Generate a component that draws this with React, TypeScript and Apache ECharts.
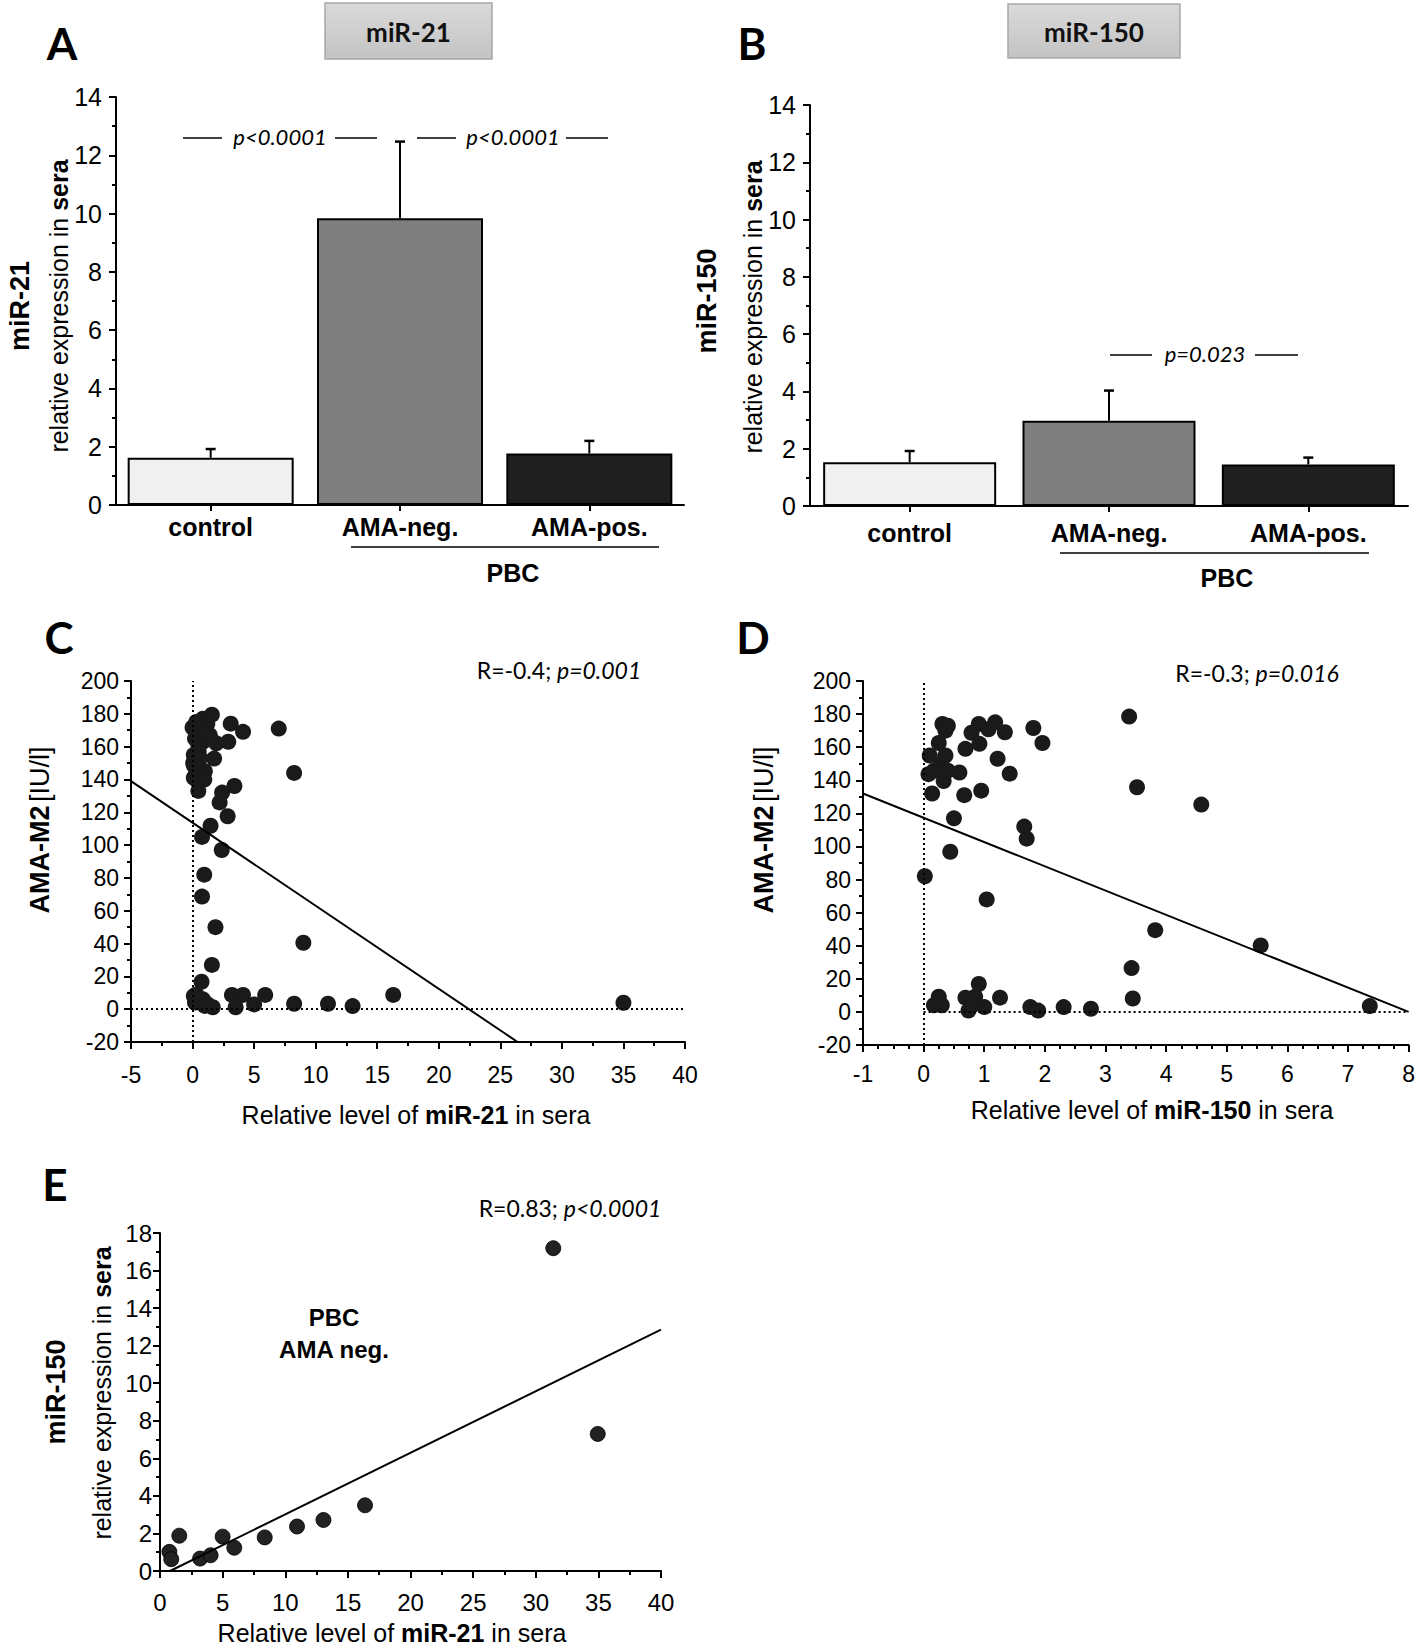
import React, { useEffect, useRef } from 'react';
import * as echarts from 'echarts';

// ---------- data ----------
const barCategories = ['control', 'AMA-neg.', 'AMA-pos.'];
const mir21Means = [1.62, 9.84, 1.77];
const mir21ErrTop = [1.92, 12.47, 2.2];
const mir150Means = [1.53, 2.98, 1.45];
const mir150ErrTop = [1.92, 4.03, 1.69];
const barColors = ['#f0f0f0', '#7f7f7f', '#1f1f1f'];
const barTicks = [0, 2, 4, 6, 8, 10, 12, 14];

// panel C: miR-21 vs AMA-M2
const scatterC = [
  [0.0, 171.7], [0.3, 175], [0.84, 177], [1.57, 179.5], [1.2, 174], [0.66, 170], [1.4, 167], [0.47, 161],
  [0.84, 163], [1.93, 162], [0.1, 155], [1.75, 152.7], [0.1, 148.6], [0.3, 144], [1.0, 145], [0.1, 141],
  [0.95, 140], [0.47, 133], [0.5, 157], [0.2, 165], [1.1, 168], [0.6, 147], [0.4, 139], [0.05, 150], [0.6, 153],
  [3.1, 174], [4.1, 169], [2.9, 163], [7.0, 171], [8.25, 144], [3.4, 136], [2.4, 132], [2.2, 126], [2.85, 117.6],
  [1.46, 111.8], [0.77, 105], [2.37, 97], [0.95, 82], [0.77, 68.6], [1.86, 50], [9.0, 40.5], [1.57, 27], [0.73, 16.7],
  [0.3, 9], [0.2, 4], [0.84, 6], [1.0, 2], [1.64, 1.2], [0.1, 8], [0.6, 4], [1.2, 3], [3.2, 8.7], [4.1, 8.7],
  [3.5, 1.2], [5.0, 2.9], [5.9, 8.7], [8.25, 3.3], [11.0, 3.3], [13.0, 1.9], [16.3, 8.7], [35.0, 3.9],
];
const fitC = [[-5, 139], [26.4, -20]];

// panel D: miR-150 vs AMA-M2
const scatterD = [
  [0.02, 82], [0.14, 132], [0.08, 143.7], [0.1, 155], [0.25, 162.5], [0.31, 174], [0.4, 173], [0.36, 170],
  [0.29, 150], [0.36, 155], [0.33, 139.5], [0.4, 145.8], [0.17, 145.8], [0.59, 144.7], [0.69, 159], [0.67, 131],
  [0.5, 117], [0.44, 96.8], [0.79, 168.7], [0.91, 174], [0.92, 162], [1.07, 170.8], [1.18, 175], [1.34, 169],
  [0.95, 133.7], [1.22, 153], [1.42, 144], [1.81, 171.6], [1.96, 162.5], [1.66, 112], [1.7, 104.7], [1.04, 68],
  [3.39, 178.5], [3.52, 135.8], [4.58, 125.3], [3.82, 49.4], [5.56, 40.2], [3.43, 26.5], [3.45, 8.1], [7.36, 3.5],
  [0.25, 9.2], [0.17, 4], [0.3, 4], [0.69, 8.6], [0.74, 0.8], [0.85, 9.2], [0.91, 16.9], [1.0, 2.9], [0.8, 4],
  [1.26, 8.6], [1.76, 2.9], [1.89, 0.8], [2.31, 2.9], [2.76, 1.9],
];
const fitD = [[-1, 132], [8, 0]];

// panel E: miR-21 vs miR-150 (PBC AMA neg.)
const scatterE = [
  [0.75, 1.02], [0.9, 0.63], [1.54, 1.88], [3.2, 0.66], [4.04, 0.84], [5.0, 1.83], [5.93, 1.24],
  [8.36, 1.79], [10.94, 2.37], [13.05, 2.72], [16.37, 3.5], [31.4, 17.19], [34.95, 7.3],
];
const fitE = [[0.8, 0], [40, 12.85]];

// ---------- layout helpers (page coordinates; the chart div sits at 0,0) ----------
const ARIAL = "'Liberation Sans', Arial, Helvetica, sans-serif";
const CAL = "Lato, 'Open Sans', sans-serif";

function gridBox(l: number, t: number, r: number, b: number) {
  return { left: l, top: t, width: r - l, height: b - t, containLabel: false };
}

const axisLine = { show: true, lineStyle: { color: '#000', width: 2 } };

function valueAxis(grid: number, min: number, max: number, interval: number, minorSplit: number, margin: number, fontSize: number) {
  return {
    type: 'value',
    gridIndex: grid,
    min,
    max,
    interval,
    axisLine: { ...axisLine, onZero: false },
    axisTick: { show: true, inside: false, length: 7, lineStyle: { color: '#000', width: 2 } },
    minorTick: { show: true, splitNumber: minorSplit, length: 4, lineStyle: { color: '#000', width: 2 } },
    splitLine: { show: false },
    axisLabel: { color: '#000', fontSize, fontFamily: ARIAL, margin },
  };
}

function catAxis(grid: number, margin: number) {
  return {
    type: 'category',
    gridIndex: grid,
    data: barCategories,
    axisLine,
    axisTick: { show: true, alignWithLabel: true, length: 6, lineStyle: { color: '#000', width: 2 } },
    axisLabel: { color: '#000', fontSize: 25, fontWeight: 'bold', fontFamily: ARIAL, margin },
  };
}

function errRender(params: any, api: any) {
  const i = api.value(0);
  const top = api.coord([i, api.value(2)]);
  const base = api.coord([i, api.value(1)]);
  return {
    type: 'group',
    children: [
      { type: 'line', shape: { x1: top[0], y1: top[1], x2: base[0], y2: base[1] }, style: { stroke: '#000', lineWidth: 2 } },
      { type: 'line', shape: { x1: top[0] - 5, y1: top[1], x2: top[0] + 5, y2: top[1] }, style: { stroke: '#000', lineWidth: 2.5 } },
    ],
  };
}

function txt(x: number, y: number, text: string, style: any, rotation = 0) {
  return {
    type: 'text',
    x,
    y,
    rotation,
    style: { text, fill: '#000', align: 'center', verticalAlign: 'middle', ...style },
    z: 10,
  };
}

function hline(x1: number, x2: number, y: number, w = 1.5) {
  return {
    type: 'line',
    shape: { x1, y1: y, x2, y2: y },
    style: { stroke: '#000', lineWidth: w },
    z: 10,
  };
}

function titleBox(x1: number, x2: number, y1: number, y2: number, label: string) {
  return [
    {
      type: 'rect',
      shape: { x: x1, y: y1, width: x2 - x1, height: y2 - y1 },
      style: {
        fill: new echarts.graphic.LinearGradient(0, 0, 0, 1, [
          { offset: 0, color: '#dadada' },
          { offset: 1, color: '#c3c3c3' },
        ]),
        stroke: '#a8a8a8',
        lineWidth: 1.5,
      },
      z: 9,
    },
    txt((x1 + x2) / 2, (y1 + y2) / 2 + 1, label, { fontSize: 26, fontWeight: 'bold', fontFamily: CAL, fill: '#111' }),
  ];
}

const richY = {
  a: { fontSize: 25, fontFamily: ARIAL, color: '#000' },
  b: { fontSize: 25, fontFamily: ARIAL, fontWeight: 'bold', color: '#000' },
};
const richAMA = {
  a: { fontSize: 27, fontFamily: ARIAL, color: '#000' },
  b: { fontSize: 27, fontFamily: ARIAL, fontWeight: 'bold', color: '#000' },
};
const richR = {
  n: { fontSize: 23, fontFamily: CAL, color: '#000' },
  i: { fontSize: 23, fontFamily: CAL, fontStyle: 'italic', color: '#000' },
};
const pStyle = { fontSize: 22, fontFamily: CAL, fontStyle: 'italic' };
const letterStyle = { fontSize: 44, fontWeight: 'bold', fontFamily: CAL };
const boldLbl = { fontSize: 25, fontWeight: 'bold', fontFamily: ARIAL };
const R90 = Math.PI / 2;

function dottedMarks(xMax: number, hStart: number) {
  return {
    silent: true,
    symbol: 'none',
    animation: false,
    label: { show: false },
    lineStyle: { type: [2, 3], color: '#000', width: 2 },
    data: [
      [{ coord: [0, -20] }, { coord: [0, 200] }],
      [{ coord: [hStart, 0] }, { coord: [xMax, 0] }],
    ],
  };
}

function buildOption() {
  return {
    animation: false,
    backgroundColor: '#fff',
    grid: [
      gridBox(116, 97, 684, 505),
      gridBox(810, 105, 1408, 506),
      gridBox(131, 681, 685, 1042),
      gridBox(863, 681, 1410, 1045),
      gridBox(160, 1233, 661, 1571),
    ],
    xAxis: [
      catAxis(0, 9),
      catAxis(1, 14),
      valueAxis(2, -5, 40, 5, 2, 21, 23),
      valueAxis(3, -1, 8, 1, 4, 17, 23),
      valueAxis(4, 0, 40, 5, 2, 19, 24),
    ],
    yAxis: [
      valueAxis(0, barTicks[0], barTicks[barTicks.length - 1], 2, 2, 14, 25),
      valueAxis(1, barTicks[0], barTicks[barTicks.length - 1], 2, 2, 14, 25),
      valueAxis(2, -20, 200, 20, 2, 12, 23),
      valueAxis(3, -20, 200, 20, 2, 12, 23),
      valueAxis(4, 0, 18, 2, 2, 8, 24),
    ],
    series: [
      {
        type: 'bar',
        xAxisIndex: 0,
        yAxisIndex: 0,
        barWidth: 166,
        data: mir21Means.map((v, i) => ({ value: v, itemStyle: { color: barColors[i] } })),
        itemStyle: { borderColor: '#000', borderWidth: 2 },
        z: 2,
      },
      {
        type: 'custom',
        xAxisIndex: 0,
        yAxisIndex: 0,
        renderItem: errRender,
        data: mir21Means.map((v, i) => [i, v, mir21ErrTop[i]]),
        z: 3,
      },
      {
        type: 'bar',
        xAxisIndex: 1,
        yAxisIndex: 1,
        barWidth: 173,
        data: mir150Means.map((v, i) => ({ value: v, itemStyle: { color: barColors[i] } })),
        itemStyle: { borderColor: '#000', borderWidth: 2 },
        z: 2,
      },
      {
        type: 'custom',
        xAxisIndex: 1,
        yAxisIndex: 1,
        renderItem: errRender,
        data: mir150Means.map((v, i) => [i, v, mir150ErrTop[i]]),
        z: 3,
      },
      {
        type: 'scatter',
        xAxisIndex: 2,
        yAxisIndex: 2,
        symbolSize: 16,
        itemStyle: { color: '#1a1a1a', opacity: 1 },
        data: scatterC,
        markLine: dottedMarks(40, -5),
        z: 4,
      },
      {
        type: 'line',
        xAxisIndex: 2,
        yAxisIndex: 2,
        data: fitC,
        showSymbol: false,
        symbol: 'none',
        lineStyle: { color: '#000', width: 2 },
        z: 5,
      },
      {
        type: 'scatter',
        xAxisIndex: 3,
        yAxisIndex: 3,
        symbolSize: 16,
        itemStyle: { color: '#1a1a1a', opacity: 1 },
        data: scatterD,
        markLine: dottedMarks(8, 0),
        z: 4,
      },
      {
        type: 'line',
        xAxisIndex: 3,
        yAxisIndex: 3,
        data: fitD,
        showSymbol: false,
        symbol: 'none',
        lineStyle: { color: '#000', width: 2 },
        z: 5,
      },
      {
        type: 'scatter',
        xAxisIndex: 4,
        yAxisIndex: 4,
        symbolSize: 15,
        itemStyle: { color: '#222', borderColor: '#000', borderWidth: 0.8, opacity: 1 },
        data: scatterE,
        z: 4,
      },
      {
        type: 'line',
        xAxisIndex: 4,
        yAxisIndex: 4,
        data: fitE,
        showSymbol: false,
        symbol: 'none',
        lineStyle: { color: '#000', width: 2 },
        z: 5,
      },
    ],
    graphic: [
      // panel letters
      txt(62, 43, 'A', letterStyle),
      txt(752, 43, 'B', letterStyle),
      txt(59, 637, 'C', letterStyle),
      txt(753, 637, 'D', letterStyle),
      txt(55, 1184, 'E', letterStyle),
      // title boxes
      ...titleBox(325, 492, 3, 59, 'miR-21'),
      ...titleBox(1008, 1180, 4, 58, 'miR-150'),
      // panel A annotations
      txt(20, 306, 'miR-21', { fontSize: 27, fontWeight: 'bold', fontFamily: ARIAL }, R90),
      txt(59, 306, '{a|relative expression in }{b|sera}', { rich: richY }, R90),
      hline(183, 222, 138),
      txt(280, 136, 'p<0.0001', pStyle),
      hline(335, 377, 138),
      hline(417, 456, 138),
      txt(513, 136, 'p<0.0001', pStyle),
      hline(566, 608, 138),
      hline(351, 659, 547),
      txt(513, 573, 'PBC', boldLbl),
      // panel B annotations
      txt(707, 301, 'miR-150', { fontSize: 27, fontWeight: 'bold', fontFamily: ARIAL }, R90),
      txt(753, 307, '{a|relative expression in }{b|sera}', { rich: richY }, R90),
      hline(1110, 1152, 355),
      txt(1205, 353, 'p=0.023', pStyle),
      hline(1255, 1298, 355),
      hline(1060, 1369, 553),
      txt(1227, 578, 'PBC', boldLbl),
      // panel C annotations
      txt(559, 670, '{n|R=-0.4; }{i|p=0.001}', { rich: richR }),
      txt(40, 830, '{b|AMA-M2} {a|[IU/l]}', { rich: richAMA }, R90),
      txt(416, 1115, '{a|Relative level of }{b|miR-21}{a| in sera}', { rich: richY }),
      // panel D annotations
      txt(1257, 673, '{n|R=-0.3; }{i|p=0.016}', { rich: richR }),
      txt(764, 830, '{b|AMA-M2} {a|[IU/l]}', { rich: richAMA }, R90),
      txt(1152, 1110, '{a|Relative level of }{b|miR-150}{a| in sera}', { rich: richY }),
      // panel E annotations
      txt(570, 1208, '{n|R=0.83; }{i|p<0.0001}', { rich: richR }),
      txt(334, 1317, 'PBC', { fontSize: 24, fontWeight: 'bold', fontFamily: ARIAL }),
      txt(334, 1349, 'AMA neg.', { fontSize: 24, fontWeight: 'bold', fontFamily: ARIAL }),
      txt(56, 1392, 'miR-150', { fontSize: 27, fontWeight: 'bold', fontFamily: ARIAL }, R90),
      txt(102, 1393, '{a|relative expression in }{b|sera}', { rich: richY }, R90),
      txt(392, 1633, '{a|Relative level of }{b|miR-21}{a| in sera}', { rich: richY }),
    ],
  };
}

export default function App() {
  const ref = useRef<HTMLDivElement>(null);
  useEffect(() => {
    if (!ref.current) return;
    const chart = echarts.init(ref.current, undefined, { renderer: 'svg' });
    chart.setOption(buildOption() as any);
    return () => chart.dispose();
  }, []);
  return (
    <div
      ref={ref}
      style={{ position: 'absolute', left: 0, top: 0, width: 1418, height: 1650, background: '#fff' }}
    />
  );
}
